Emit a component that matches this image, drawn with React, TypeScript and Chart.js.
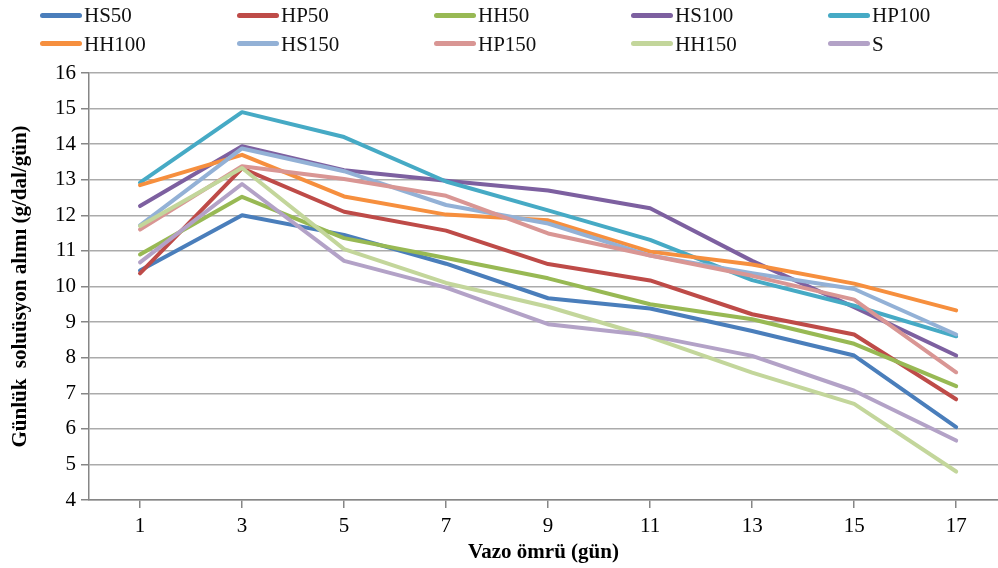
import React, { useEffect, useRef } from "react";
import { Chart, registerables } from "chart.js";

Chart.register(...registerables);

const days = [1, 3, 5, 7, 9, 11, 13, 15, 17];
const yTicks = [4, 5, 6, 7, 8, 9, 10, 11, 12, 13, 14, 15, 16];

const seriesNames = ["HS50", "HP50", "HH50", "HS100", "HP100", "HH100", "HS150", "HP150", "HH150", "S"];

const HS50 = [10.45, 12.0, 11.45, 10.64, 9.67, 9.38, 8.75, 8.06, 6.05];
const HP50 = [10.37, 13.32, 12.1, 11.57, 10.63, 10.17, 9.22, 8.65, 6.83];
const HH50 = [10.9, 12.52, 11.36, 10.8, 10.23, 9.5, 9.08, 8.39, 7.2];
const HS100 = [12.26, 13.94, 13.27, 12.97, 12.7, 12.2, 10.72, 9.42, 8.06];
const HP100 = [12.92, 14.9, 14.2, 12.95, 12.14, 11.31, 10.18, 9.46, 8.6];
const HH100 = [12.85, 13.7, 12.53, 12.02, 11.86, 10.98, 10.62, 10.08, 9.33];
const HS150 = [11.72, 13.88, 13.24, 12.29, 11.77, 10.87, 10.37, 9.93, 8.65];
const HP150 = [11.6, 13.38, 13.02, 12.55, 11.49, 10.87, 10.3, 9.63, 7.59];
const HH150 = [11.7, 13.33, 11.05, 10.1, 9.43, 8.58, 7.58, 6.7, 4.8];
const S = [10.68, 12.88, 10.72, 9.97, 8.94, 8.62, 8.05, 7.07, 5.67];

const seriesValues = [HS50, HP50, HH50, HS100, HP100, HH100, HS150, HP150, HH150, S];

const seriesColors = [
  "#4a7ebb",
  "#be4b48",
  "#98b954",
  "#7d60a0",
  "#46aac5",
  "#f68f3e",
  "#93b1d6",
  "#d99694",
  "#c3d69b",
  "#b3a2c7",
];

const xTitle = "Vazo ömrü (gün)";
const yTitle = "Günlük  soluüsyon alımı (g/dal/gün)";

const FONT = "'Liberation Serif', 'Times New Roman', serif";

function Legend() {
  return (
    <div style={{ position: "absolute", left: 0, top: 0, width: 998, height: 60 }}>
      {seriesNames.map((name, i) => {
        const col = i % 5;
        const row = Math.floor(i / 5);
        return (
          <div
            key={name}
            style={{
              position: "absolute",
              left: 40 + col * 197,
              top: 15 + row * 28.5 - 12,
              height: 24,
              display: "flex",
              alignItems: "center",
              whiteSpace: "nowrap",
            }}
          >
            <span
              style={{
                display: "inline-block",
                width: 42,
                height: 5,
                borderRadius: 2.5,
                background: seriesColors[i],
              }}
            />
            <span
              style={{
                marginLeft: 2,
                fontFamily: FONT,
                fontSize: 21,
                lineHeight: "24px",
                color: "#111",
              }}
            >
              {name}
            </span>
          </div>
        );
      })}
    </div>
  );
}

export default function App() {
  const canvasRef = useRef<HTMLCanvasElement | null>(null);

  useEffect(() => {
    const canvas = canvasRef.current;
    if (!canvas) return;
    const n = seriesNames.length;
    const chart = new Chart(canvas, {
      type: "line",
      data: {
        datasets: seriesNames.map((name, i) => ({
          label: name,
          data: days.map((d, j) => ({ x: d, y: seriesValues[i][j] })),
          borderColor: seriesColors[i],
          backgroundColor: seriesColors[i],
          borderWidth: 4,
          borderJoinStyle: "round" as const,
          borderCapStyle: "round" as const,
          pointRadius: 0,
          tension: 0,
          fill: false,
          order: n - i,
        })),
      },
      options: {
        animation: false,
        responsive: false,
        devicePixelRatio: 1,
        layout: { padding: { top: 73, left: 0, right: 0, bottom: 0 } },
        plugins: {
          legend: { display: false },
          tooltip: { enabled: false },
        },
        scales: {
          x: {
            type: "linear",
            min: 0,
            max: 17.82,
            afterBuildTicks: (scale: any) => {
              scale.ticks = days.map((d) => ({ value: d }));
            },
            afterFit: (scale: any) => {
              scale.height = 68;
            },
            ticks: {
              autoSkip: false,
              maxRotation: 0,
              padding: 6,
              color: "#000",
              font: { family: FONT, size: 21 },
              callback: (v: any) => String(v),
            },
            grid: {
              drawOnChartArea: false,
              drawTicks: true,
              tickLength: 8,
              color: "#868686",
              lineWidth: 1.5,
            },
            border: { display: true, color: "#868686", width: 1.5 },
            title: {
              display: true,
              text: xTitle,
              color: "#000",
              font: { family: FONT, size: 21, weight: "bold" },
              padding: { top: 0, bottom: 3 },
            },
          },
          y: {
            type: "linear",
            min: 4,
            max: 16,
            afterBuildTicks: (scale: any) => {
              scale.ticks = yTicks.map((v) => ({ value: v }));
            },
            afterFit: (scale: any) => {
              scale.width = 89;
            },
            ticks: {
              padding: 5,
              color: "#000",
              font: { family: FONT, size: 21 },
              callback: (v: any) => String(v),
            },
            grid: {
              drawOnChartArea: true,
              drawTicks: true,
              tickLength: 8,
              color: "#ababab",
              tickColor: "#868686",
              lineWidth: 1.5,
            },
            border: { display: true, color: "#868686", width: 1.5 },
            title: {
              display: true,
              text: yTitle,
              color: "#000",
              font: { family: FONT, size: 21, weight: "bold" },
              padding: { top: 8, bottom: 0 },
            },
          },
        },
      },
    });
    return () => chart.destroy();
  }, []);

  return (
    <div
      style={{
        position: "fixed",
        left: 0,
        top: 0,
        width: 998,
        height: 568,
        background: "#fff",
        overflow: "hidden",
      }}
    >
      <canvas
        ref={canvasRef}
        width={998}
        height={568}
        style={{ display: "block", width: 998, height: 568 }}
      />
      <Legend />
    </div>
  );
}
